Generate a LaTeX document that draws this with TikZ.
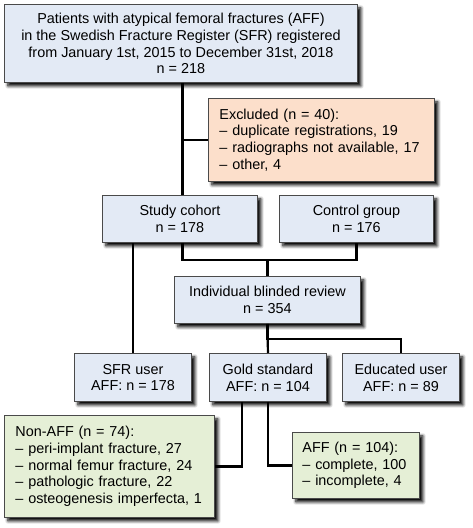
\documentclass[tikz,border=0pt]{standalone}
\usepackage{fontspec}
\setmainfont{Liberation Sans}
\usetikzlibrary{calc,shadows.blur}

\definecolor{boxblue}{HTML}{E3EAF5}
\definecolor{boxpeach}{HTML}{FCDFCB}
\definecolor{boxgreen}{HTML}{E5EFD6}
\definecolor{boxline}{HTML}{4A4A4A}

\begin{document}
\begin{tikzpicture}[x=1pt,y=-1pt,
    box/.style={draw=boxline,line width=0.9pt,rectangle,anchor=north west,inner sep=0pt,
        font=\fontsize{14.4}{16.8}\selectfont,
        blur shadow={shadow xshift=3.5pt,shadow yshift=-3.5pt,shadow blur steps=6,shadow blur radius=3pt,shadow opacity=100}},
    bluebox/.style={box,fill=boxblue,align=center},
    listbox/.style={box,align=left,text width=#1},
    link/.style={line width=2.2pt,black}]
    \useasboundingbox (0,0) rectangle (472,528);
    \node at (4,4) [bluebox,minimum width=353pt,minimum height=78pt] (top)
        {Patients with atypical femoral fractures (AFF)\\in the Swedish Fracture Register (SFR) registered\\from January 1st, 2015 to December 31st, 2018\\n = 218};
    \node at (208,98) [listbox=204pt,fill=boxpeach,minimum width=226pt,minimum height=83pt,inner xsep=11pt] (excl)
        {Excluded (n = 40):\\– duplicate registrations, 19\\– radiographs not available, 17\\– other, 4};
    \node at (102,195) [bluebox,minimum width=155pt,minimum height=47pt] (study) {Study cohort\\n = 178};
    \node at (279,195) [bluebox,minimum width=154pt,minimum height=47pt] (control) {Control group\\n = 176};
    \node at (174,276) [bluebox,minimum width=186pt,minimum height=47pt] (review) {Individual blinded review\\n = 354};
    \node at (74,353) [bluebox,minimum width=117pt,minimum height=48pt] (sfr) {SFR user\\AFF: n = 178};
    \node at (209,353) [bluebox,minimum width=117pt,minimum height=48pt] (gold) {Gold standard\\AFF: n = 104};
    \node at (342,353) [bluebox,minimum width=117pt,minimum height=48pt] (edu) {Educated user\\AFF: n = 89};
    \node at (4,415) [listbox=188pt,fill=boxgreen,minimum width=210pt,minimum height=102pt,inner xsep=11pt] (nonaff)
        {Non-AFF (n = 74):\\– peri-implant fracture, 27\\– normal femur fracture, 24\\– pathologic fracture, 22\\– osteogenesis imperfecta, 1};
    \node at (292,432) [listbox=107pt,fill=boxgreen,minimum width=127pt,minimum height=66pt,inner xsep=10pt] (aff)
        {AFF (n = 104):\\– complete, 100\\– incomplete, 4};

    \coordinate (trunk) at ($(top.south)+(1.5,0)$);
    \draw[link] (trunk) -- (trunk |- study.north);
    \draw[link] (trunk |- excl.west) -- (excl.west);
    \draw[link] (study.south -| trunk) -- ++(0,17) -| (control.south);
    \draw[link] (review.north) -- ++(0,-17);
    \draw[link] (sfr.north) -- (sfr.north |- study.south);
    \draw[link] (review.south) -- (gold.north);
    \draw[link] (review.south) -- ++(0,15) -| (edu.north);
    \draw[link] ([xshift=-26pt]gold.south) |- (nonaff.east);
    \draw[link] (gold.south) |- (aff.west);
\end{tikzpicture}
\end{document}
